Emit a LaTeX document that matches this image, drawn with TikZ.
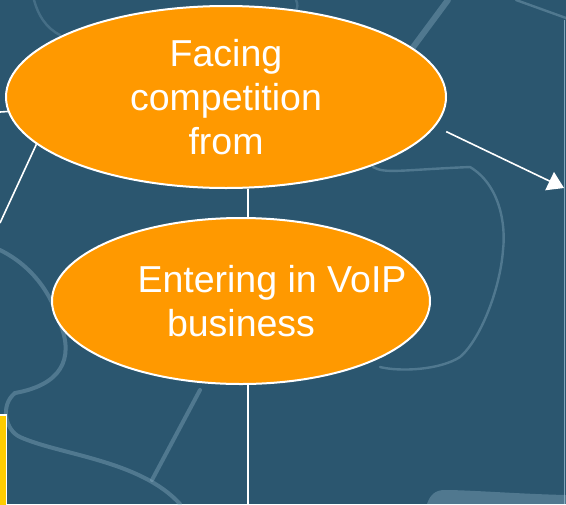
\documentclass[tikz,border=0pt]{standalone}
\usepackage{fontspec}
\setmainfont{Liberation Sans}
\usetikzlibrary{shapes.geometric,arrows.meta}

\definecolor{slate}{RGB}{43,86,111}
\definecolor{seamblue}{RGB}{150,185,205}
\definecolor{pumpkin}{RGB}{255,153,0}
\definecolor{gold}{RGB}{255,204,0}

\tikzset{
  bubble/.style={ellipse,draw=white,line width=1pt,fill=pumpkin,text=white,
    inner sep=0pt,align=center,font=\fontsize{18.75}{22}\selectfont},
  caption/.style={text=white,inner sep=0pt,align=center,
    font=\fontsize{18.75}{22}\selectfont},
  link/.style={draw=white,line width=0.8pt},
  seam/.style={seamblue,line width=1.2pt,opacity=0.35,line cap=round}
}

\begin{document}
\begin{tikzpicture}[x=0.5pt,y=-0.5pt]
\fill[slate] (0,0) rectangle (566,504);
\useasboundingbox (0,0) rectangle (566,504);

% puzzle seams in the backdrop
\draw[seam] (373,167) .. controls (385,174) and (400,170) .. (470,167)
  .. controls (500,185) and (506,225) .. (503,250)
  .. controls (500,290) and (480,340) .. (460,357)
  .. controls (440,370) and (400,372) .. (380,367);
\draw[seam,line width=2pt] (0,250) .. controls (30,265) and (50,290) .. (60,323)
  .. controls (75,360) and (60,385) .. (15,393)
  .. controls (0,405) and (5,430) .. (20,437)
  .. controls (60,455) and (140,460) .. (180,504);
\draw[seam,line width=2pt] (200,390) -- (152,480);
\draw[seam,line width=3pt] (448,0) -- (411,50);
\draw[seam] (516,0) -- (566,18);
\draw[seam,opacity=0.25] (34,0) .. controls (38,15) and (46,28) .. (60,35);
\draw[seam,opacity=0.25] (296,0) .. controls (298,4) and (298,8) .. (295,12);
\fill[seamblue,opacity=0.35] (427,504) .. controls (430,495) and (435,490) .. (445,490)
  .. controls (470,490) and (520,494) .. (566,495) -- (566,504) -- cycle;

% frame edge on the right and tab at the bottom left
\draw[seamblue,line width=0.6pt,opacity=0.8] (564.5,20) -- (564.5,504);
\draw[white,line width=0.6pt,fill=gold] (-2,415) rectangle (6.5,506);

\node[bubble,minimum width=220pt,minimum height=91pt] (facing) at (226,97)
  {Facing\\competition\\from};
\node[bubble,minimum width=189pt,minimum height=83pt] (voip) at (241,301) {};
\node[caption] (voiptext) at (voip.center)
  {\hspace*{31pt}Entering in VoIP\\business};

\coordinate (west) at (0,112);
\coordinate (southwest) at (0,223);
\coordinate (east) at (564,188);
\coordinate (trunk) at (248,504);

\draw[link] (west) -- (facing);
\draw[link] (facing.194) -- (southwest);
\draw[link,-{Triangle[width=10pt,length=8pt]},shorten <=6pt] (facing.352) -- (east);
\draw[link] (trunk |- facing.south) -- (trunk |- voip.north);
\draw[link] (trunk |- voip.south) -- (trunk);
\end{tikzpicture}
\end{document}
